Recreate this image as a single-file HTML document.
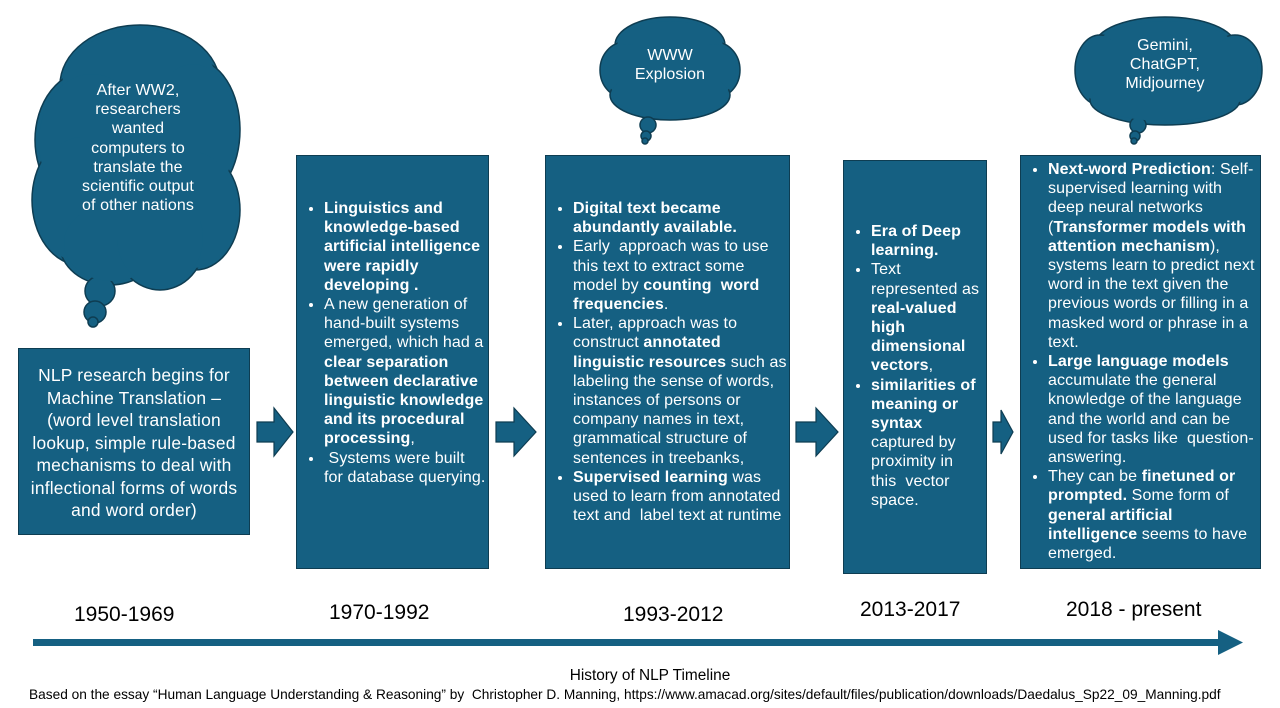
<!DOCTYPE html>
<html><head><meta charset="utf-8"><style>
body{margin:0;width:1280px;height:708px;background:#fff;position:relative;overflow:hidden;font-family:"Liberation Sans",sans-serif;}
.box{position:absolute;background:#156082;border:1.5px solid #0e3d52;box-sizing:border-box;color:#fff;font-size:16px;letter-spacing:0.1px;line-height:19.2px;}
.box ul{margin:0;padding:0 0 0 27px;}
.box li{margin:0;}
b{font-weight:bold}
.yr{position:absolute;font-size:21px;color:#000;}
.ct{position:absolute;color:#fff;font-size:16px;letter-spacing:0.1px;line-height:19.2px;text-align:center;}
</style></head><body>
<svg width="1280" height="708" style="position:absolute;left:0;top:0">
<g fill="#156082" stroke="#0e3d52" stroke-width="1.5">
<ellipse cx="140" cy="85" rx="80" ry="60"/><ellipse cx="90" cy="140" rx="55" ry="70"/><ellipse cx="195" cy="130" rx="45" ry="70"/>
<ellipse cx="80" cy="200" rx="48" ry="65"/><ellipse cx="195" cy="210" rx="45" ry="60"/><ellipse cx="110" cy="245" rx="50" ry="40"/><ellipse cx="160" cy="240" rx="45" ry="50"/>
<circle cx="100" cy="291" r="15"/><circle cx="95" cy="312" r="11"/><circle cx="93" cy="322" r="5"/>
</g>
<g fill="#156082"><ellipse cx="140" cy="87" rx="78" ry="58"/><ellipse cx="92" cy="142" rx="53" ry="68"/><ellipse cx="193" cy="132" rx="43" ry="68"/><ellipse cx="82" cy="200" rx="46" ry="63"/><ellipse cx="193" cy="210" rx="43" ry="58"/><ellipse cx="112" cy="243" rx="48" ry="38"/><ellipse cx="160" cy="238" rx="43" ry="48"/><rect x="80" y="90" width="120" height="150"/></g>
<g fill="#156082" stroke="#0e3d52" stroke-width="1.5">
<ellipse cx="670" cy="45" rx="55" ry="28"/><ellipse cx="625" cy="70" rx="25" ry="28"/><ellipse cx="715" cy="70" rx="25" ry="28"/><ellipse cx="670" cy="95" rx="60" ry="25"/>
<circle cx="648" cy="125" r="8"/><circle cx="646" cy="136" r="5"/><circle cx="645" cy="141" r="3"/>
</g>
<g fill="#156082"><ellipse cx="670" cy="47" rx="53" ry="26"/><ellipse cx="627" cy="70" rx="23" ry="26"/><ellipse cx="713" cy="70" rx="23" ry="26"/><ellipse cx="670" cy="93" rx="58" ry="23"/><rect x="620" y="45" width="100" height="50"/></g>
<g fill="#156082" stroke="#0e3d52" stroke-width="1.5">
<ellipse cx="1165" cy="45" rx="70" ry="28"/><ellipse cx="1100" cy="70" rx="25" ry="35"/><ellipse cx="1235" cy="70" rx="27" ry="35"/><ellipse cx="1165" cy="100" rx="75" ry="25"/>
<circle cx="1138" cy="125" r="8"/><circle cx="1135" cy="136" r="5"/><circle cx="1134" cy="141" r="3"/>
</g>
<g fill="#156082"><ellipse cx="1165" cy="47" rx="68" ry="26"/><ellipse cx="1102" cy="70" rx="23" ry="33"/><ellipse cx="1233" cy="70" rx="25" ry="33"/><ellipse cx="1165" cy="98" rx="73" ry="23"/><rect x="1095" y="45" width="145" height="55"/></g>
<g fill="#156082" stroke="#0e3d52" stroke-width="1.2">
<polygon points="257,422 274,422 274,408 293,432 274,456 274,442 257,442"/>
<polygon points="496,422 514,422 514,408 536,432 514,456 514,442 496,442"/>
<polygon points="796,422 816,422 816,408 838,432 816,456 816,442 796,442"/>
<polygon points="993,422 1001,422 1001,410 1013,432 1001,454 1001,442 993,442"/>
</g>
<rect x="33" y="639" width="1190" height="7" fill="#156082"/>
<polygon points="1218,630 1243,642.5 1218,655" fill="#156082"/>
</svg>
<div class="ct" style="left:75px;top:81px;width:126px">After WW2, researchers wanted computers to translate the scientific output of other nations</div>
<div class="ct" style="left:620px;top:46px;width:100px">WWW Explosion</div>
<div class="ct" style="left:1110px;top:36px;width:110px">Gemini, ChatGPT, Midjourney</div>

<div class="box" style="left:18px;top:348px;width:232px;height:187px;font-size:17.4px;letter-spacing:0.2px;line-height:22.5px;text-align:center;padding:15px 8px 0">NLP research begins for Machine Translation – (word level translation lookup, simple rule-based mechanisms to deal with inflectional forms of words and word order)</div>

<div class="box" style="left:296px;top:155px;width:193px;height:414px;padding:43px 2px 0 0"><ul>
<li><b>Linguistics and knowledge-based artificial intelligence were rapidly developing .</b></li>
<li>A new generation of hand-built systems emerged, which had a <b>clear separation between declarative linguistic knowledge and its procedural processing</b>,</li>
<li>&nbsp;Systems were built for database querying.</li></ul></div>

<div class="box" style="left:545px;top:155px;width:245px;height:414px;padding-top:43px"><ul>
<li><b>Digital text became abundantly available.</b></li>
<li>Early &nbsp;approach was to use this text to extract some model by <b>counting &nbsp;word frequencies</b>.</li>
<li>Later, approach was to construct <b>annotated linguistic resources</b> such as labeling the sense of words, instances of persons or company names in text, grammatical structure of sentences in treebanks,</li>
<li><b>Supervised learning</b> was used to learn from annotated text and &nbsp;label text at runtime</li></ul></div>

<div class="box" style="left:843px;top:160px;width:144px;height:414px;padding:61px 6px 0 0"><ul>
<li><b>Era of Deep learning.</b></li>
<li>Text represented as <b>real-valued high dimensional vectors</b>,</li>
<li><b>similarities of meaning or syntax</b> captured by proximity in this &nbsp;vector space.</li></ul></div>

<div class="box" style="left:1020px;top:155px;width:241px;height:414px;padding-top:4px"><ul>
<li><b>Next-word Prediction</b>: Self-supervised learning with deep neural networks (<b>Transformer models with attention mechanism</b>), systems learn to predict next word in the text given the previous words or filling in a masked word or phrase in a text.</li>
<li><b>Large language models</b> accumulate the general knowledge of the language and the world and can be used for tasks like &nbsp;question-answering.</li>
<li>They can be <b>finetuned or prompted.</b> Some form of <b>general artificial intelligence</b> seems to have emerged.</li></ul></div>

<div class="yr" style="left:74px;top:603px">1950-1969</div>
<div class="yr" style="left:329px;top:601px">1970-1992</div>
<div class="yr" style="left:623px;top:603px">1993-2012</div>
<div class="yr" style="left:860px;top:598px">2013-2017</div>
<div class="yr" style="left:1066px;top:598px">2018 - present</div>

<div style="position:absolute;left:0;width:1300px;top:667px;text-align:center;font-size:15.4px">History of NLP Timeline</div>
<div style="position:absolute;left:29px;top:687px;font-size:13.7px;white-space:nowrap">Based on the essay “Human Language Understanding &amp; Reasoning” by &nbsp;Christopher D. Manning, https://www.amacad.org/sites/default/files/publication/downloads/Daedalus_Sp22_09_Manning.pdf</div>
</body></html>
